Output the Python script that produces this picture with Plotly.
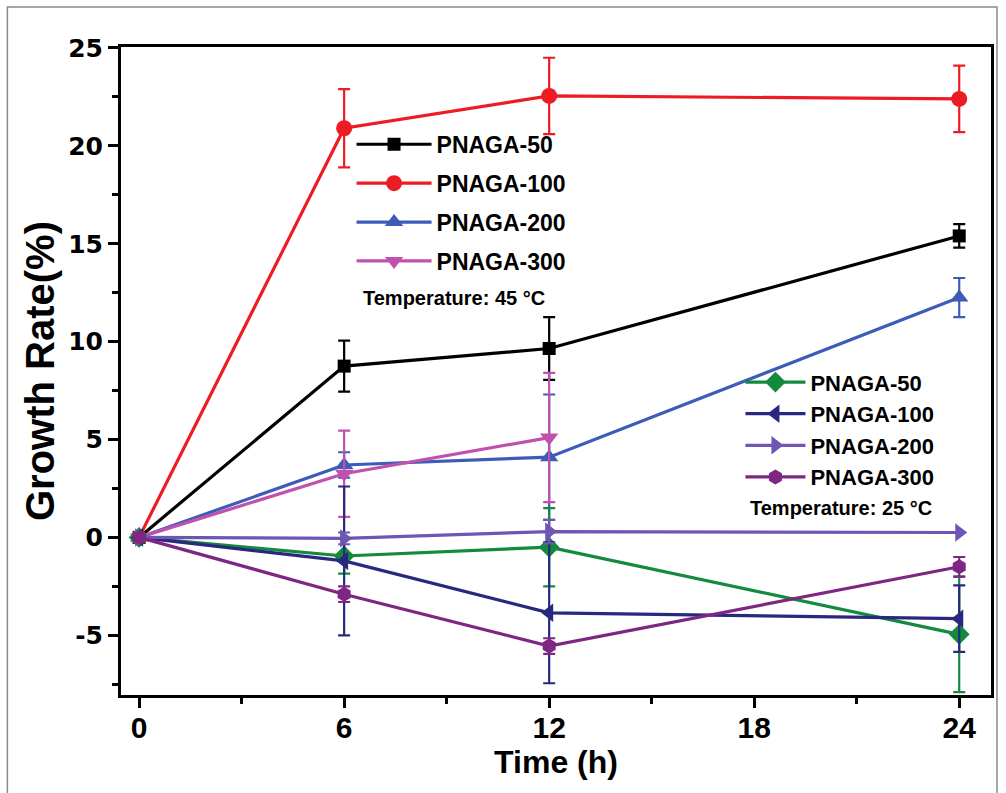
import plotly.graph_objects as go

# ---------------- data ----------------
hours = [0, 6, 12, 24]
hours_short = [0, 6, 12]

names = ["PNAGA-50", "PNAGA-100", "PNAGA-200", "PNAGA-300"]

# 45 °C
g45_50 = [0, 8.75, 9.65, 15.4]
e45_50 = [0, 1.3, 1.6, 0.6]
g45_100 = [0, 20.9, 22.55, 22.4]
e45_100 = [0, 2.0, 1.95, 1.7]
g45_200 = [0, 3.7, 4.1, 12.25]
e45_200 = [0, 0.65, 3.2, 1.0]
g45_300 = [0, 3.25, 5.1]
e45_300 = [0, 2.2, 3.3]

# 25 °C
g25_50 = [0, -0.95, -0.5, -4.95]
e25_50 = [0, 0.9, 2.0, 2.95]
g25_100 = [0, -1.2, -3.85, -4.15]
e25_100 = [0, 3.8, 3.6, 1.7]
g25_200 = [0, -0.05, 0.3, 0.25]
e25_200 = [0, 0.3, 0.6, 0.0]
g25_300 = [0, -2.9, -5.55, -1.5]
e25_300 = [0, 0.4, 0.4, 0.5]

x_ticks = [0, 6, 12, 18, 24]
y_ticks = [-5, 0, 5, 10, 15, 20, 25]

# ---------------- style ----------------
SANS = "Liberation Sans, Arial, sans-serif"
WIDE = "DejaVu Sans, Verdana, sans-serif"

series = [
    (hours, g45_50, e45_50, names[0], "#000000", "square", 13, "legend"),
    (hours, g45_100, e45_100, names[1], "#ED1C24", "circle", 16, "legend"),
    (hours, g45_200, e45_200, names[2], "#3D5CB8", "triangle-up", 16, "legend"),
    (hours_short, g45_300, e45_300, names[3], "#C052AE", "triangle-down", 16, "legend"),
    (hours, g25_50, e25_50, names[0], "#138A3E", "diamond", 16, "legend2"),
    (hours, g25_100, e25_100, names[1], "#28287F", "triangle-left", 16, "legend2"),
    (hours, g25_200, e25_200, names[2], "#6F55B4", "triangle-right", 16, "legend2"),
    (hours, g25_300, e25_300, names[3], "#7F2683", "hexagon", 15, "legend2"),
]

fig = go.Figure()
for i, (xs, ys, es, nm, col, sym, sz, lg) in enumerate(series):
    fig.add_trace(go.Scatter(
        x=xs, y=ys, name=nm, mode="lines+markers",
        line=dict(color=col, width=3.2),
        marker=dict(color=col, symbol=sym, size=sz, line=dict(width=0)),
        error_y=dict(type="data", array=es, visible=True, color=col,
                     thickness=2.2, width=6),
        legend=lg, legendgroup="g%d" % i,
    ))

axis_common = dict(
    showline=True, linecolor="black", linewidth=3, mirror=True,
    ticks="outside", tickcolor="black", tickwidth=3, ticklen=10,
    showgrid=False, zeroline=False,
)

fig.update_xaxes(
    range=[-0.53, 24.93], tickvals=x_ticks, ticktext=[str(v) for v in x_ticks],
    tickfont=dict(family=SANS, size=30, color="black", weight="bold"),
    ticklabelstandoff=-6,
    minor=dict(ticks="outside", dtick=3, tick0=0, ticklen=6, tickwidth=3, tickcolor="black"),
    title=dict(text="Time (h)", font=dict(family=SANS, size=32, color="black", weight="bold"), standoff=0),
    **axis_common,
)
fig.update_yaxes(
    range=[-8.05, 25.05], tickvals=y_ticks, ticktext=[str(v) for v in y_ticks],
    tickfont=dict(family=WIDE, size=25, color="black", weight="bold"),
    minor=dict(ticks="outside", dtick=2.5, tick0=0, ticklen=6, tickwidth=3, tickcolor="black"),
    title=dict(text="Growth Rate(%)", font=dict(family=SANS, size=40, color="black", weight="bold"), standoff=2),
    **axis_common,
)

legend_font1 = dict(family=SANS, size=23, color="black", weight="bold")
legend_font2 = dict(family=SANS, size=22, color="black", weight="bold")

fig.update_layout(
    width=1006, height=793,
    margin=dict(l=121, r=12, t=47, b=98),
    paper_bgcolor="white", plot_bgcolor="white",
    showlegend=True,
    legend=dict(x=0.265, y=0.883, xanchor="left", yanchor="top",
                bgcolor="rgba(0,0,0,0)", font=legend_font1, itemwidth=75,
                tracegroupgap=6),
    legend2=dict(x=0.712, y=0.515, xanchor="left", yanchor="top",
                 bgcolor="rgba(0,0,0,0)", font=legend_font2, itemwidth=60,
                 tracegroupgap=0),
    annotations=[
        dict(text="Temperature: 45 °C", xref="paper", yref="paper",
             x=(362 - 121) / 873, y=(695 - 298) / 648, xanchor="left", yanchor="middle",
             showarrow=False, font=dict(family=SANS, size=20, color="black", weight="bold")),
        dict(text="Temperature: 25 °C", xref="paper", yref="paper",
             x=(750 - 121) / 873, y=(695 - 508) / 648, xanchor="left", yanchor="middle",
             showarrow=False, font=dict(family=SANS, size=20, color="black", weight="bold")),
    ],
    shapes=[
        dict(type="rect", xref="paper", yref="paper",
             x0=(7 - 121) / 873, x1=(1000 - 121) / 873,
             y0=(695 - 800) / 648, y1=(695 - 7) / 648,
             line=dict(color="#8a8a8a", width=1.5), layer="below"),
    ],
)

fig.write_html("out.html")
